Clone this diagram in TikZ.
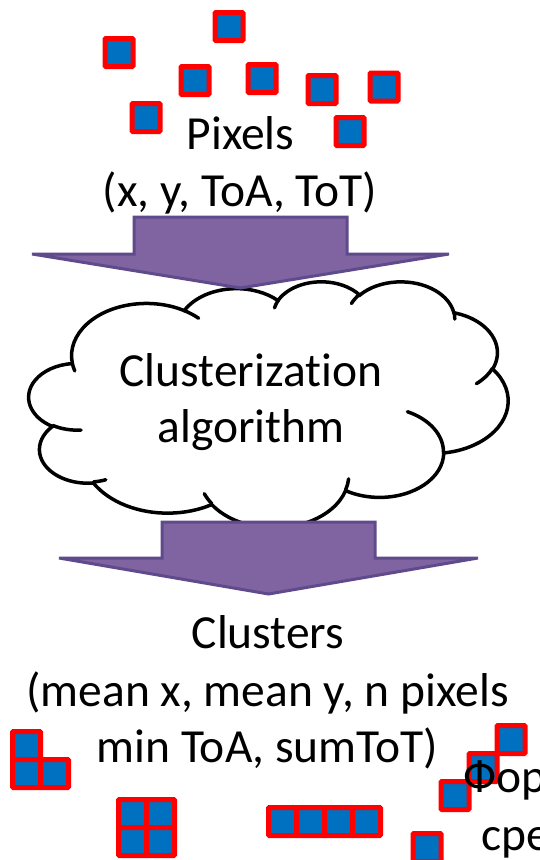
\documentclass[tikz,border=0pt]{standalone}
\usepackage{fontspec}
\setmainfont[Ligatures=NoCommon]{Carlito}
\usepackage{tikz}
\usetikzlibrary{calc}
\definecolor{pixblue}{HTML}{0070C0}
\definecolor{pixred}{HTML}{FF0000}
\definecolor{arrfill}{HTML}{8064A2}
\definecolor{arrline}{HTML}{5F4B8B}
\tikzset{
  pixel/.style    = {draw=pixred, fill=pixblue, line width=5pt, rounded corners=1pt},
  bigarrow/.style = {draw=arrline, fill=arrfill, line width=3pt, line join=miter},
  cloudline/.style= {draw=black, line width=3.5pt},
  label/.style    = {inner sep=0pt, anchor=base, font=\fontsize{47.5}{57}\selectfont}
}

\begin{document}
\begin{tikzpicture}[x=1pt, y=-1pt]
        \useasboundingbox (0,0) rectangle (539,860);
        \clip (0,0) rectangle (539,860);

        % loose pixels
        \foreach \x/\y in {229/26.5,119/52.5,195/80.5,262/78.5,322/89.5,384/87,146/117.5,350/131.5}
            \draw[pixel] (\x-14,\y-14) rectangle ++(28,28);
        \node[label] (pix1) at (240.5,149) {Pixels};
        \node[label] (pix2) at (240,206) {(x, y, ToA, ToT)};

        % cloud (0..432 box)
        \begin{scope}[shift={(29,281)}, x=1.1088pt, y=-0.5694pt]
            \path[cloudline, fill=white] (39.00,143.70)
                \foreach \wr/\hr/\sa/\sw in {67.53/91.90/-190.4875/123.7805,
                    53.33/72.67/-144.1024/89.9452, 43.65/59.45/-145.8079/99.7230,
                    48.57/65.95/-130.9861/117.2417, 53.33/72.73/-78.7089/109.0269,
                    67.75/92.20/-46.2673/130.2690, 57.85/78.67/0.6250/114.0333,
                    67.52/92.15/22.4516/115.1726, 77.20/105.43/66.2426/75.7110,
                    43.60/59.18/-274.9421/146.7356, 43.45/59.45/-246.8285/152.5189}
                { arc[x radius=\wr, y radius=\hr,
                      start angle={atan2(\wr*sin(\sa),\hr*cos(\sa))},
                      delta angle={mod(atan2(\wr*sin(\sa+\sw),\hr*cos(\sa+\sw))-atan2(\wr*sin(\sa),\hr*cos(\sa))+720,360)}] }
                -- cycle;
            \path[cloudline, line cap=round]
                \foreach \px/\py/\wr/\hr/\sa/\sw in {46.93/261.77/43.45/59.45/86.7420/26.4295,
                    69.28/348.99/43.60/59.18/73.6105/11.4475, 164.78/390.90/67.52/92.15/137.6242/14.0811,
                    288.27/347.51/67.52/92.15/6.4533/15.9984, 341.29/229.54/57.85/78.67/-70.2924/70.9174,
                    417.98/153.54/53.33/72.73/30.3180/27.7515, 383.24/54.26/48.57/65.95/-13.7443/14.8589,
                    290.78/39.52/48.57/65.95/-149.1815/18.1954, 221.41/47.20/43.65/59.45/-163.4943/17.6864,
                    140.00/51.92/67.53/91.90/-66.7070/12.3194, 41.27/157.89/67.53/91.90/157.6544/11.8582}
                { (\px,\py) arc[x radius=\wr, y radius=\hr,
                      start angle={atan2(\wr*sin(\sa),\hr*cos(\sa))},
                      delta angle={mod(atan2(\wr*sin(\sa+\sw),\hr*cos(\sa+\sw))-atan2(\wr*sin(\sa),\hr*cos(\sa))+720,360)}] };
        \end{scope}
        \node[label] (alg1) at (251,386) {Clusterization};
        \node[label] (alg2) at (251,442) {algorithm};

        % block arrows
        \coordinate (arr1) at (240.5,217);
        \coordinate (arr2) at (268.5,522);
        \draw[bigarrow] (arr1) ++(-106.5,0) -- ++(213,0) -- ++(0,37) -- ++(102,0)
            -- ++(-208.5,34) -- ++(-208.5,-34) -- ++(102,0) -- cycle;
        \draw[bigarrow] (arr2) ++(-106.5,0) -- ++(213,0) -- ++(0,36) -- ++(103,0)
            -- ++(-209.5,36) -- ++(-209.5,-36) -- ++(103,0) -- cycle;

        \node[label] (clu1) at (268,648) {Clusters};
        \node[label] (clu2) at (267.5,706) {(mean x, mean y, n pixels};
        \node[label] (clu3) at (267.5,762) {min ToA, sumToT)};

        % clusters
        \foreach \x/\y in {26.5/745.5,26.5/773.5,54.5/773.5,
                           132.5/813.5,160.5/813.5,132.5/841.5,160.5/841.5,
                           282.5/821.5,310.5/821.5,338.5/821.5,366.5/821.5,
                           511/739.5,483/767.5,455/795.5,427/847.5}
            \draw[pixel] (\x-14,\y-14) rectangle ++(28,28);

        \node[label, anchor=base west] (rus1) at (463,792) {Фор};
        \node[label, anchor=base west] (rus2) at (481,850) {сре};
\end{tikzpicture}
\end{document}
